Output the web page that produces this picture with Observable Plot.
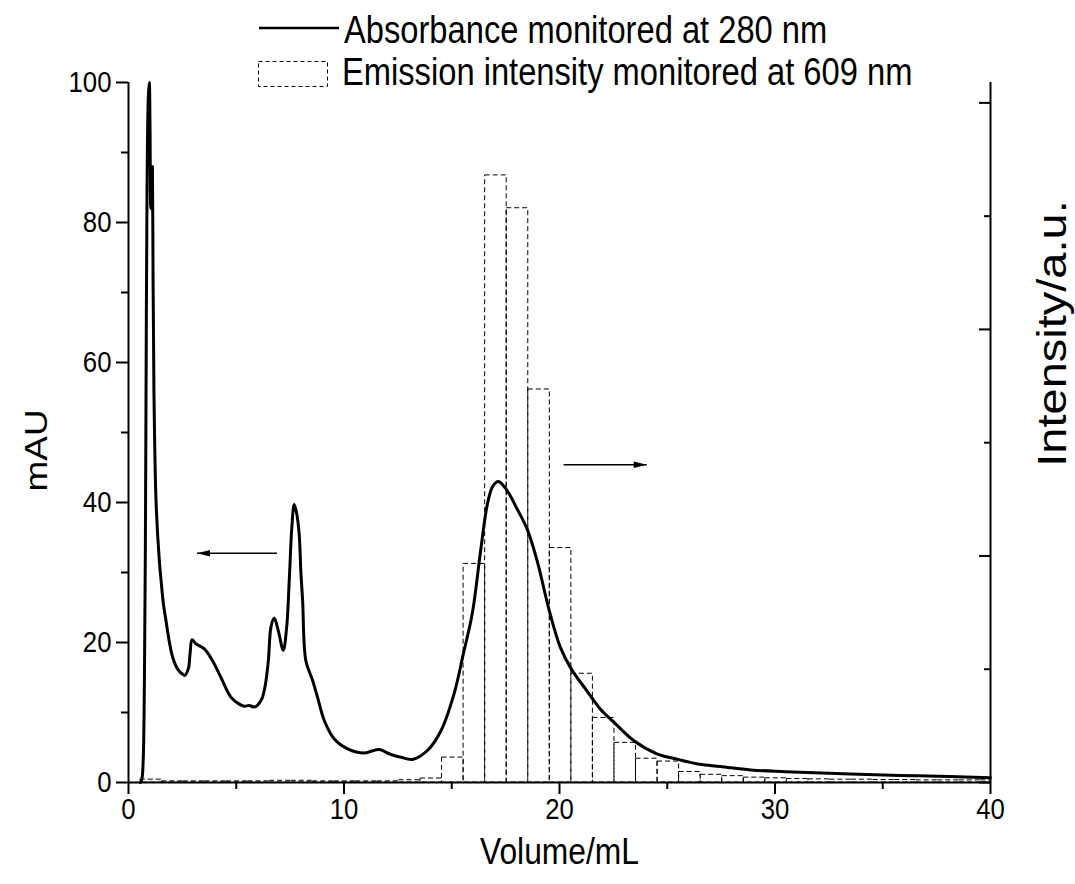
<!DOCTYPE html>
<html><head><meta charset="utf-8">
<script src="https://cdn.jsdelivr.net/npm/d3@7"></script>
<script src="https://cdn.jsdelivr.net/npm/@observablehq/plot@0.6"></script>
<style>
body{margin:0;background:#fff;}
#wrap{position:relative;width:1075px;height:884px;font-family:"Liberation Sans",Arial,sans-serif;}
.lg{position:absolute;white-space:nowrap;font-size:38px;line-height:38px;color:#000;transform:scaleX(0.86);transform-origin:0 0;}
.sample{position:absolute;overflow:visible;}
</style></head><body>
<div id="wrap"></div>
<script>
// Absorbance at 280 nm (mAU) vs elution volume (mL)
const absVolume = [0.55,0.62,0.68,0.74,0.78,0.82,0.86,0.92,0.965,1.0,1.04,1.08,1.11,1.14,1.18,1.28,1.43,1.51,1.62,1.74,1.9,2.05,2.28,2.5,2.62,2.72,2.79,2.86,2.95,3.13,3.52,3.9,4.29,4.75,5.14,5.37,5.6,5.87,6.15,6.33,6.49,6.61,6.76,6.95,7.18,7.34,7.46,7.58,7.69,7.8,7.92,8.0,8.08,8.23,8.54,8.77,9.08,9.55,10.17,10.94,11.3,11.63,12.18,12.64,13.18,13.87,14.5,15.11,15.54,15.95,16.34,16.65,16.9,17.16,17.57,18.03,18.5,18.96,19.53,20.04,20.55,21.27,21.89,22.53,23.44,24.52,25.5,26.5,27.46,28.87,30.5,33.5,35.8,38.1,40];
const absValue  = [0,0.5,3,15,32,60,85,98,100,93,82,83,88,72,56,40,31.7,28.9,25.5,23.1,20,17.9,16.2,15.5,15.3,15.8,16.4,18.5,20.4,19.8,19.1,17.4,15.0,12.2,11.2,10.9,11.0,10.8,11.7,13.6,17.4,22.2,23.5,21.7,18.9,22.2,28.9,36.5,39.7,38.5,35.5,30,26,17.4,14.6,12.2,8.9,6.2,4.8,4.2,4.5,4.7,4.0,3.6,3.3,4.57,7.4,12.7,18.4,24.1,33.1,39.7,42.3,43.0,41.7,39.1,36.2,31.7,24.5,19.3,16.2,13.1,10.5,8.6,6.0,4.1,3.3,2.6,2.3,1.8,1.55,1.2,1.0,0.85,0.67];

// Emission intensity at 609 nm (a.u.), one fraction per mL
const binStart  = [0.55,1.55,2.55,3.55,4.55,5.55,6.55,7.55,8.55,9.55,10.55,11.55,12.55,13.55,14.55,15.55,16.55,17.55,18.55,19.55,20.55,21.55,22.55,23.55,24.55,25.55,26.55,27.55,28.55,29.55,30.55,31.55,32.55,33.55,34.55,35.55,36.55,37.55,38.55,39.55];
const intensity = [0.025,0.01,0.01,0.01,0.01,0.01,0.015,0.015,0.01,0.01,0.01,0.01,0.02,0.035,0.22,1.93,5.36,5.07,3.47,2.07,0.96,0.57,0.35,0.21,0.185,0.093,0.068,0.056,0.043,0.037,0.031,0.028,0.025,0.025,0.022,0.022,0.019,0.019,0.019,0.019];

const xMajorTicks = [0,10,20,30,40];
const xMinorTicks = [5,15,25,35];
const yMajorTicks = [0,20,40,60,80,100];
const yMinorTicks = [10,30,50,70,90];
const rMajorTicks = [0,2,4,6];
const rMinorTicks = [1,3,5];
const intensityTop = 6.18;

const xTitle = "Volume/mL";
const yTitle = "mAU";
const y2Title = "Intensity/a.u.";
const legendLabels = ["Absorbance monitored at 280 nm", "Emission intensity monitored at 609 nm"];

// annotation arrows (volume from -> to, at level in mAU)
const arrowFrom  = [6.89, 20.19];
const arrowTo    = [3.18, 24.05];
const arrowLevel = [32.75, 45.4];

const toY = v => v * 100 / intensityTop;
const abs = absVolume.map((x, i) => ({x, y: absValue[i]}));
const bins = binStart.map((x, i) => ({x1: x, x2: Math.min(x + 1, 40), v: intensity[i]}));
const arrows = arrowFrom.map((x1, i) => ({x1, x2: arrowTo[i], y: arrowLevel[i]}));

const head = {draw(ctx) { ctx.moveTo(0, 0); ctx.lineTo(-13, -3.3); ctx.lineTo(-13, 3.3); ctx.closePath(); }};
const font = '"Liberation Sans", Arial, sans-serif';

const svg = Plot.plot({
  width: 1075, height: 884,
  marginLeft: 128, marginRight: 85, marginTop: 82, marginBottom: 102,
  x: {domain: [0, 40]},
  y: {domain: [0, 100]},
  style: {fontFamily: font, fontSize: "30px", color: "#000", background: "#fff"},
  marks: [
    Plot.rect(bins, {x1: "x1", x2: "x2", y1: 0, y2: d => toY(d.v), fill: "none", stroke: "#000", strokeWidth: 1, strokeDasharray: "5,3"}),
    Plot.line(abs, {x: "x", y: "y", stroke: "#000", strokeWidth: 3, curve: "catmull-rom"}),
    Plot.link(arrows, {x1: "x1", x2: "x2", y1: "y", y2: "y", stroke: "#000", strokeWidth: 1.6}),
    Plot.dot(arrows, {x: "x2", y: "y", symbol: head, fill: "#000", stroke: "none", rotate: d => d.x2 < d.x1 ? 180 : 0}),
    Plot.ruleY([0], {stroke: "#000", strokeWidth: 2}),
    Plot.ruleX([0, 40], {stroke: "#000", strokeWidth: 2}),
    Plot.axisX(xMajorTicks, {tickSize: 12, strokeWidth: 2, fontSize: 30, tickPadding: 3, label: null}),
    Plot.axisX(xMinorTicks, {tickSize: 7, strokeWidth: 2, tickFormat: () => "", label: null}),
    Plot.axisY(yMajorTicks, {tickSize: 12, strokeWidth: 2, fontSize: 30, tickPadding: 5, label: null}),
    Plot.axisY(yMinorTicks, {tickSize: 7, strokeWidth: 2, tickFormat: () => "", label: null}),
    Plot.axisY(rMajorTicks.map(toY), {anchor: "right", tickSize: 12, dx: -12, strokeWidth: 2, tickFormat: () => "", label: null}),
    Plot.axisY(rMinorTicks.map(toY), {anchor: "right", tickSize: 7, dx: -7, strokeWidth: 2, tickFormat: () => "", label: null}),
    Plot.text([xTitle], {text: d => d, frameAnchor: "bottom", dy: 70, fontSize: 37, lineAnchor: "middle", textAnchor: "middle"}),
    Plot.text([yTitle], {text: d => d, frameAnchor: "left", dx: -92, dy: 18, rotate: -90, fontSize: 37, lineAnchor: "middle", textAnchor: "middle"}),
    Plot.text([y2Title], {text: d => d, frameAnchor: "right", dx: 63, dy: -99, rotate: -90, fontSize: 47, lineAnchor: "middle", textAnchor: "middle"})
  ]
});

// horizontally condensed lettering, as in the original figure
svg.querySelectorAll("text").forEach(t => {
  let tr = t.getAttribute("transform");
  if (tr == null) {
    const x = +t.getAttribute("x") || 0, y = +t.getAttribute("y") || 0;
    t.removeAttribute("x"); t.removeAttribute("y");
    tr = `translate(${x},${y})`;
  }
  t.setAttribute("transform", tr + (tr.includes("rotate") ? " scale(1,0.86)" : " scale(0.86,1)"));
});

const wrap = document.getElementById("wrap");
wrap.appendChild(svg);
svg.style.position = "absolute"; svg.style.left = "0"; svg.style.top = "0";

// legend
const ns = "http://www.w3.org/2000/svg";
function sample(left, top, w, h, inner) {
  const s = document.createElementNS(ns, "svg");
  s.setAttribute("class", "sample"); s.setAttribute("width", w); s.setAttribute("height", h);
  s.style.left = left + "px"; s.style.top = top + "px";
  s.innerHTML = inner; wrap.appendChild(s);
}
sample(259, 26, 80, 4, '<line x1="0" y1="2" x2="80" y2="2" stroke="#000" stroke-width="2.5"/>');
sample(257, 60, 72, 28, '<rect x="1.5" y="1.5" width="69" height="25" fill="none" stroke="#000" stroke-width="1" stroke-dasharray="4,3"/>');
[[344, 11], [342, 53]].forEach(([l, t], i) => {
  const d = document.createElement("div");
  d.className = "lg"; d.style.left = l + "px"; d.style.top = t + "px";
  d.textContent = legendLabels[i]; wrap.appendChild(d);
});
</script>
</body></html>
